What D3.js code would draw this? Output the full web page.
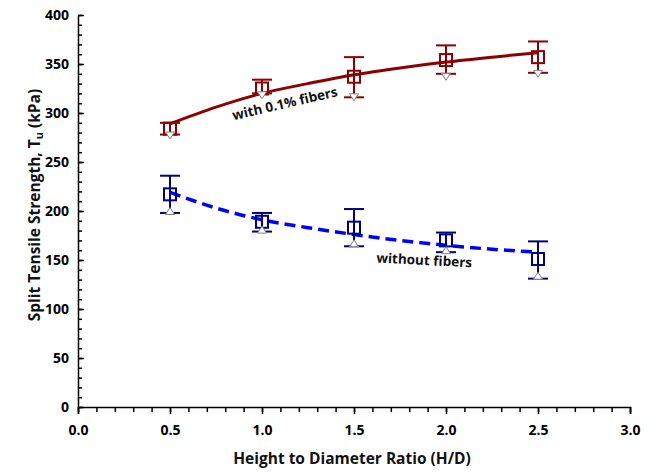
<!DOCTYPE html>
<html>
<head>
<meta charset="utf-8">
<script src="https://cdn.jsdelivr.net/npm/d3@7"></script>
<style>
  body { margin: 0; background: #fff; }
  text { font-family: "Open Sans", "Noto Sans", sans-serif; font-weight: bold; }
</style>
</head>
<body>
<div class="chart"></div>
<script>
// data
var hdRatio = [0.5, 1.0, 1.5, 2.0, 2.5];

// with 0.1% fibers
var fiberMean = [284, 325, 337, 354, 357];
var fiberUpper = [290, 334, 357, 369, 373];
var fiberLower = [278, 320, 316, 340, 341];
var fiberTri = [277, 318, 316, 337, 340];

// without fibers
var plainMean = [217, 189, 183, 170, 151];
var plainUpper = [236, 198, 202, 178, 169];
var plainLower = [198, 179, 164, 158, 131];
var plainTri = [200, 181, 167, 160, 134];

// fitted trend curves
var fitX = [0.5, 0.75, 1.0, 1.25, 1.5, 1.75, 2.0, 2.25, 2.5];
var fiberFit = [289, 306, 320, 330, 339, 346, 352, 357, 361.5];
var plainFit = [219, 203, 191, 183, 176, 170, 165, 161, 158];

var xTicks = [0, 0.5, 1.0, 1.5, 2.0, 2.5, 3.0];
var yTicks = [0, 50, 100, 150, 200, 250, 300, 350, 400];

var svgWidth = 652;
var svgHeight = 472;

var margin = { top: 15, right: 22, bottom: 65, left: 78 };
var width = svgWidth - margin.left - margin.right;
var height = svgHeight - margin.top - margin.bottom;

var svg = d3.select(".chart")
  .append("svg")
  .attr("width", svgWidth)
  .attr("height", svgHeight);

var chartGroup = svg.append("g")
  .attr("transform", `translate(${margin.left}, ${margin.top})`);

var xScale = d3.scaleLinear().domain([0, 3]).range([0, width]);
var yScale = d3.scaleLinear().domain([0, 400]).range([height, 0]);

// minor ticks
chartGroup.append("g")
  .attr("class", "minor")
  .attr("transform", `translate(0, ${height})`)
  .call(d3.axisBottom(xScale).tickValues(d3.range(0, 3.001, 0.1)).tickSize(5).tickFormat(""));
chartGroup.append("g")
  .attr("class", "minor")
  .call(d3.axisLeft(yScale).tickValues(d3.range(0, 401, 10)).tickSize(-4).tickFormat(""));

// major axes
var xAxis = chartGroup.append("g")
  .attr("transform", `translate(0, ${height})`)
  .call(d3.axisBottom(xScale).tickValues(xTicks).tickSize(7).tickPadding(11).tickFormat(d3.format(".1f")));
var yAxis = chartGroup.append("g")
  .call(d3.axisLeft(yScale).tickValues(yTicks).tickSizeInner(-6).tickSizeOuter(0).tickPadding(9));

// tick marks drawn inward need their labels pushed back left
yAxis.selectAll(".tick text").attr("x", -9);

svg.selectAll(".domain, .tick line")
  .attr("stroke", "#000")
  .attr("stroke-width", 1.5);
svg.selectAll(".minor .domain").remove();
svg.selectAll(".tick text")
  .attr("font-size", 14)
  .attr("fill", "#000");

// trend curves
var fitLine = function(vals) {
  return d3.line()
    .x((d, i) => xScale(fitX[i]))
    .y(d => yScale(d))
    .curve(d3.curveMonotoneX)(vals);
};

chartGroup.append("path")
  .attr("d", fitLine(fiberFit))
  .attr("fill", "none")
  .attr("stroke", "#8b0000")
  .attr("stroke-width", 3);

chartGroup.append("path")
  .attr("d", fitLine(plainFit))
  .attr("fill", "none")
  .attr("stroke", "#0000ff")
  .attr("stroke-width", 3.5)
  .attr("stroke-dasharray", "11,6");

// error bars + markers
function drawSeries(mean, upper, lower, tri, color, triDown) {
  var g = chartGroup.append("g");
  var cap = 10;
  hdRatio.forEach(function(x, i) {
    var cx = xScale(x);
    g.append("line")
      .attr("x1", cx).attr("x2", cx)
      .attr("y1", yScale(upper[i])).attr("y2", yScale(lower[i]))
      .attr("stroke", color).attr("stroke-width", 2);
    [upper[i], lower[i]].forEach(function(v) {
      g.append("line")
        .attr("x1", cx - cap).attr("x2", cx + cap)
        .attr("y1", yScale(v)).attr("y2", yScale(v))
        .attr("stroke", color).attr("stroke-width", 2);
    });
  });

  g.selectAll("rect")
    .data(mean)
    .enter()
    .append("rect")
    .attr("x", (d, i) => xScale(hdRatio[i]) - 6)
    .attr("y", d => yScale(d) - 6)
    .attr("width", 12)
    .attr("height", 12)
    .attr("fill", "none")
    .attr("stroke", color)
    .attr("stroke-width", 2);

  g.selectAll("path.tri")
    .data(tri)
    .enter()
    .append("path")
    .attr("class", "tri")
    .attr("d", function(d, i) {
      var cx = xScale(hdRatio[i]);
      var cy = yScale(d);
      var s = triDown ? 1 : -1;
      return `M${cx - 4.5},${cy - s * 3.5}L${cx + 4.5},${cy - s * 3.5}L${cx},${cy + s * 3.5}Z`;
    })
    .attr("fill", "#fff")
    .attr("stroke", "#808080")
    .attr("stroke-width", 1);
}

drawSeries(fiberMean, fiberUpper, fiberLower, fiberTri, "#8b0000", true);
drawSeries(plainMean, plainUpper, plainLower, plainTri, "#000080", false);

// curve labels
chartGroup.append("text")
  .attr("transform", `translate(${xScale(1.13)}, ${yScale(305)}) rotate(-13)`)
  .attr("text-anchor", "middle")
  .attr("font-size", 13.5)
  .attr("fill", "#111")
  .text("with 0.1% fibers");

chartGroup.append("text")
  .attr("transform", `translate(${xScale(1.88)}, ${yScale(145)}) rotate(3)`)
  .attr("text-anchor", "middle")
  .attr("font-size", 13.5)
  .attr("fill", "#111")
  .text("without fibers");

// axis titles
var yTitle = chartGroup.append("text")
  .attr("transform", "rotate(-90)")
  .attr("x", 0 - (height / 2) + 6)
  .attr("y", 0 - margin.left + 40)
  .attr("text-anchor", "middle")
  .attr("font-size", 15.5)
  .attr("fill", "#111");
yTitle.append("tspan").text("Split Tensile Strength, T");
yTitle.append("tspan").attr("font-size", 11).attr("dy", 3).text("u");
yTitle.append("tspan").attr("dy", -3).text(" (kPa)");

chartGroup.append("text")
  .attr("x", width / 2 - 2)
  .attr("y", height + 57)
  .attr("text-anchor", "middle")
  .attr("font-size", 15.5)
  .attr("fill", "#111")
  .text("Height to Diameter Ratio (H/D)");
</script>
</body>
</html>
